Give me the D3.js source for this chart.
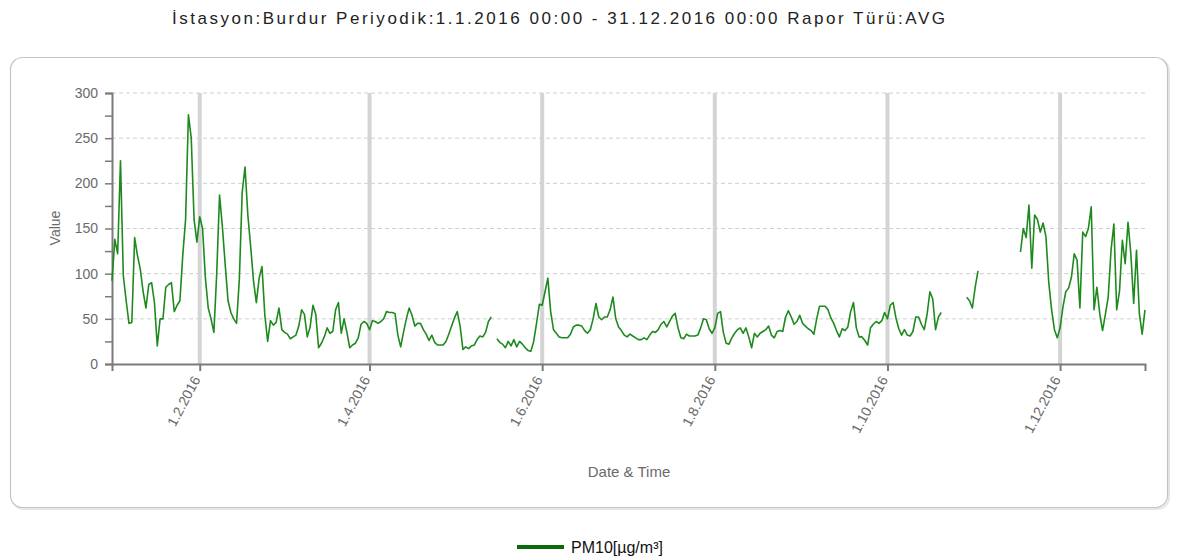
<!DOCTYPE html>
<html>
<head>
<meta charset="utf-8">
<script src="https://cdn.jsdelivr.net/npm/d3@7"></script>
<style>
    body { margin: 0; background: #fff; }
    svg text { font-family: "Liberation Sans", Arial, sans-serif; }
</style>
</head>
<body>
<div id="chart"></div>
<script>
// daily PM10 averages, one array per month (null = no measurement)
var jan = [92, 138, 122, 225, 98, 70, 45, 46, 140, 120, 105, 80, 62, 88, 90, 68, 20, 50, 50, 85, 88, 90, 58, 65, 70, 120, 160, 276, 250, 160, 135];
var feb = [163, 150, 95, 62, 50, 35, 100, 187, 152, 110, 70, 57, 50, 45, 94, 190, 218, 165, 130, 92, 68, 95, 108, 54, 25, 48, 43, 46, 62];
var mar = [38, 35, 33, 28, 30, 32, 42, 60, 55, 30, 41, 65, 55, 18, 23, 30, 40, 34, 36, 60, 68, 34, 50, 35, 18, 21, 23, 29, 44, 47, 45];
var apr = [38, 48, 47, 45, 47, 50, 58, 57, 57, 56, 32, 19, 35, 50, 62, 54, 42, 45, 45, 38, 33, 26, 32, 24, 21, 21, 21, 25, 33, 42];
var may = [51, 58, 42, 16, 19, 17, 20, 21, 27, 31, 30, 35, 47, 52, null, 28, 24, 22, 18, 25, 20, 27, 19, 25, 22, 18, 15, 14, 25, 45, 66];
var jun = [65, 80, 95, 58, 38, 34, 30, 29, 29, 29, 33, 41, 43, 43, 42, 37, 34, 38, 50, 67, 52, 49, 52, 52, 60, 74, 50, 41, 37, 32];
var jul = [30, 33, 31, 29, 27, 27, 29, 27, 32, 36, 35, 38, 44, 47, 41, 47, 53, 56, 40, 29, 28, 33, 31, 31, 31, 32, 40, 50, 49, 39, 34];
var aug = [40, 56, 58, 35, 23, 22, 29, 34, 38, 40, 34, 40, 30, 18, 34, 30, 34, 36, 38, 42, 32, 29, 36, 37, 36, 52, 59, 52, 44, 47, 54];
var sep = [45, 42, 39, 37, 33, 50, 64, 64, 64, 60, 51, 45, 37, 30, 39, 37, 41, 58, 68, 40, 30, 30, 26, 21, 40, 44, 47, 45, 48, 57];
var oct = [50, 65, 68, 51, 39, 32, 38, 32, 31, 36, 52, 52, 44, 38, 55, 80, 72, 38, 52, 57, null, null, null, null, null, null, null, null, 74, 70, 62];
var nov = [85, 103, null, null, null, null, null, null, null, null, null, null, null, null, null, null, 124, 150, 140, 176, 106, 165, 160, 146, 156, 141, 90, 60, 38, 29];
var dec = [40, 63, 80, 84, 96, 122, 115, 62, 146, 141, 150, 174, 60, 85, 56, 37, 55, 74, 126, 155, 60, 81, 137, 111, 157, 122, 67, 126, 56, 33, 60];

var months = [jan, feb, mar, apr, may, jun, jul, aug, sep, oct, nov, dec];
var yTicks = [0, 50, 100, 150, 200, 250, 300];
var xTickDates = [new Date(2016, 1, 1), new Date(2016, 3, 1), new Date(2016, 5, 1),
    new Date(2016, 7, 1), new Date(2016, 9, 1), new Date(2016, 11, 1)];
var titleText = "İstasyon:Burdur Periyodik:1.1.2016 00:00 - 31.12.2016 00:00 Rapor Türü:AVG";
var seriesName = "PM10[µg/m³]";

// flatten months into dated points
var data = [];
months.forEach(function (m, mi) {
    m.forEach(function (v, di) {
        data.push({date: new Date(2016, mi, di + 1), v: v});
    });
});

var W = 1180, H = 560;
var margin = {top: 93, left: 112, right: 35, bottom: 196};

var svg = d3.select("#chart")
        .append("svg")
        .attr("width", W)
        .attr("height", H);

// title (the original is rendered wide, so stretch the spacing)
svg.append("text")
        .attr("x", 172)
        .attr("y", 24)
        .attr("font-size", 17)
        .attr("fill", "#222")
        .attr("textLength", 773)
        .attr("lengthAdjust", "spacing")
        .text(titleText);

// rounded panel with a faint shadow
svg.append("rect")
        .attr("x", 12).attr("y", 59)
        .attr("width", 1157).attr("height", 450)
        .attr("rx", 12)
        .attr("fill", "none")
        .attr("stroke", "#e6e6e6")
        .attr("stroke-width", 2);
svg.append("rect")
        .attr("x", 10.5).attr("y", 57.5)
        .attr("width", 1157).attr("height", 450)
        .attr("rx", 12)
        .attr("fill", "#fff")
        .attr("stroke", "#c4c4c4")
        .attr("stroke-width", 1.2);

var x = d3.scaleTime()
        .domain([new Date(2016, 0, 1), new Date(2016, 11, 31)])
        .range([margin.left, W - margin.right]);
var y = d3.scaleLinear()
        .domain([0, 300])
        .range([H - margin.bottom, margin.top]);

// horizontal dashed grid
svg.append("g")
        .selectAll("line")
        .data(yTicks.slice(1))
        .enter()
        .append("line")
        .attr("x1", x.range()[0])
        .attr("x2", x.range()[1])
        .attr("y1", function (d) { return y(d); })
        .attr("y2", function (d) { return y(d); })
        .attr("stroke", "#cfcfcf")
        .attr("stroke-dasharray", "4,3");

// vertical month grid
svg.append("g")
        .selectAll("line")
        .data(xTickDates)
        .enter()
        .append("line")
        .attr("x1", function (d) { return x(d); })
        .attr("x2", function (d) { return x(d); })
        .attr("y1", y(300))
        .attr("y2", y(0))
        .attr("stroke", "#d4d4d4")
        .attr("stroke-width", 4);

// y axis, minor ticks every 25
var yAxis = svg.append("g")
        .attr("transform", "translate(" + margin.left + ",0)")
        .call(d3.axisLeft(y).tickValues(d3.range(0, 301, 25)).tickSize(7)
                .tickFormat(function (d) { return d % 50 === 0 ? d : ""; }));
yAxis.select(".domain").attr("stroke", "#7a7a7a").attr("stroke-width", 2);
yAxis.selectAll(".tick line").attr("stroke", "#7a7a7a").attr("stroke-width", 1.5);
yAxis.selectAll(".tick text")
        .attr("font-size", 14)
        .attr("fill", "#6a6a6a")
        .attr("x", -14);

// x axis with rotated date labels
var xAxis = svg.append("g")
        .attr("transform", "translate(0," + y(0) + ")")
        .call(d3.axisBottom(x).tickValues(xTickDates).tickSize(7)
                .tickFormat(function (d) { return "1." + (d.getMonth() + 1) + ".2016"; }));
xAxis.select(".domain").attr("stroke", "#7a7a7a").attr("stroke-width", 2);
xAxis.selectAll(".tick line").attr("stroke", "#7a7a7a").attr("stroke-width", 2);
xAxis.selectAll(".tick text")
        .attr("font-size", 14)
        .attr("fill", "#6a6a6a")
        .attr("text-anchor", "end")
        .attr("dy", "0.35em")
        .attr("transform", "translate(0,6) rotate(-62)")
        .attr("x", -8)
        .attr("y", 0);

// axis titles
svg.append("text")
        .attr("x", 629)
        .attr("y", 477)
        .attr("text-anchor", "middle")
        .attr("font-size", 15)
        .attr("fill", "#6a6a6a")
        .text("Date & Time");
svg.append("text")
        .attr("transform", "translate(60,228) rotate(-90)")
        .attr("text-anchor", "middle")
        .attr("font-size", 14)
        .attr("fill", "#6a6a6a")
        .text("Value");

// the series
var line = d3.line()
        .defined(function (d) { return d.v !== null; })
        .x(function (d) { return x(d.date); })
        .y(function (d) { return y(d.v); });
svg.append("path")
        .datum(data)
        .attr("d", line)
        .attr("fill", "none")
        .attr("stroke", "#1e8a1e")
        .attr("stroke-width", 1.6)
        .attr("stroke-linejoin", "round");

// legend
svg.append("line")
        .attr("x1", 517).attr("x2", 564)
        .attr("y1", 547).attr("y2", 547)
        .attr("stroke", "#0b6b0b")
        .attr("stroke-width", 4);
svg.append("text")
        .attr("x", 571)
        .attr("y", 553)
        .attr("font-size", 16)
        .attr("fill", "#111")
        .text(seriesName);
</script>
</body>
</html>
